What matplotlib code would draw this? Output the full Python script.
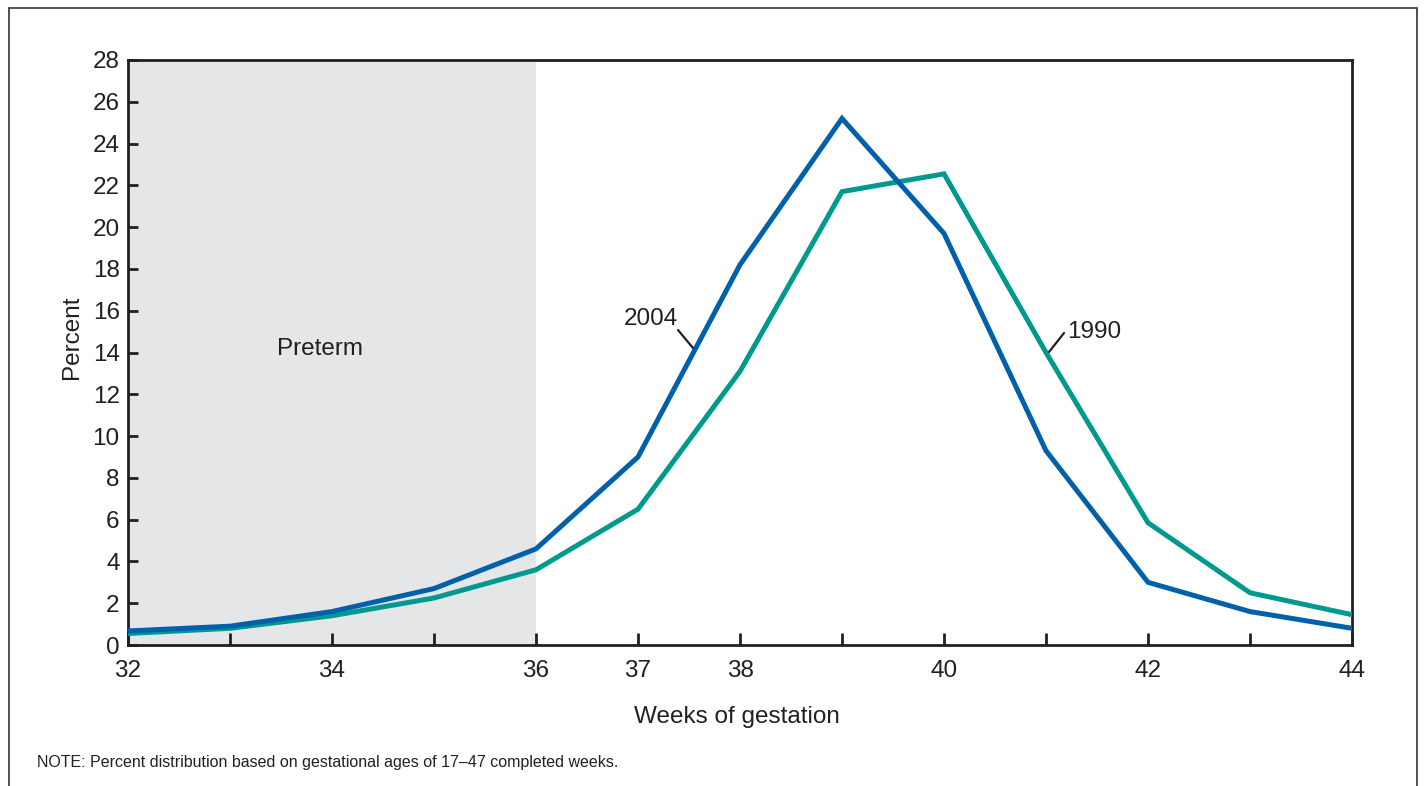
import matplotlib
matplotlib.use("Agg")
import matplotlib.pyplot as plt
from matplotlib.patches import Rectangle

plt.rcParams['font.family'] = ['Liberation Sans', 'DejaVu Sans']

weeks = [32, 33, 34, 35, 36, 37, 38, 39, 40, 41, 42, 43, 44]
pct_2004 = [0.67, 0.9, 1.6, 2.7, 4.6, 9.0, 18.2, 25.2, 19.7, 9.3, 3.0, 1.6, 0.8]
pct_1990 = [0.55, 0.8, 1.4, 2.25, 3.6, 6.5, 13.1, 21.7, 22.55, 14.0, 5.85, 2.5, 1.45]
xtick_labels = {32: "32", 34: "34", 36: "36", 37: "37", 38: "38", 40: "40", 42: "42", 44: "44"}
yticks = list(range(0, 29, 2))

BLUE = "#0060aa"
TEAL = "#00998f"
SHADE = "#e5e6e8"
INK = '#231f20'

W, H = 1426, 786
fig = plt.figure(figsize=(W/100, H/100), dpi=100)
ax = fig.add_axes([128/W, 1-645/H, (1352-128)/W, (645-60)/H])

def px2data(px, py):
    return 32 + (px - 128) / 102.0, (645 - py) / (585 / 28.0)

ax.axvspan(32, 36, color=SHADE, lw=0, zorder=0)
ax.plot(weeks, pct_1990, color=TEAL, lw=3.6, solid_joinstyle='miter', zorder=3)
ax.plot(weeks, pct_2004, color=BLUE, lw=3.6, solid_joinstyle='miter', zorder=3)

ax.set_xlim(32, 44)
ax.set_ylim(0, 28)
ax.set_xticks(weeks)
ax.set_xticklabels([xtick_labels.get(w, "") for w in weeks])
ax.set_yticks(yticks)
ax.tick_params(axis='x', direction='in', length=9, width=2, labelsize=17.5, pad=11, color=INK, labelcolor=INK)
ax.tick_params(axis='y', direction='in', length=7, width=2, labelsize=17.5, pad=6, color=INK, labelcolor=INK)
for s in ax.spines.values():
    s.set_linewidth(2)
    s.set_color(INK)

ax.set_xlabel("Weeks of gestation", fontsize=17.5, color=INK)
ax.xaxis.label.set_va('center')
ax.xaxis.set_label_coords((737-128)/1224, (645-717)/585)
ax.set_ylabel("Percent", fontsize=17.5, color=INK)
ax.yaxis.label.set_va('center')
ax.yaxis.set_label_coords((72-128)/1224, (645-337)/585)

ax.text(*px2data(320, 349), "Preterm", fontsize=17.5, ha='center', va='center', color=INK)

# 2004 label and leader
ax.text(*px2data(651, 319), "2004", fontsize=17.5, ha='center', va='center', color=INK)
ax.annotate("", xy=px2data(693, 348), xytext=px2data(678, 330),
            arrowprops=dict(arrowstyle='-', color=INK, lw=1.6, shrinkA=0, shrinkB=0))
# 1990 label and leader
ax.text(*px2data(1067, 332), "1990", fontsize=17.5, ha='left', va='center', color=INK)
ax.annotate("", xy=px2data(1049, 352), xytext=px2data(1064, 333),
            arrowprops=dict(arrowstyle='-', color=INK, lw=1.6, shrinkA=0, shrinkB=0))

fig.text(37/W, 1-762/H, "NOTE: Percent distribution based on gestational ages of 17\u201347 completed weeks.",
         fontsize=11.5, ha='left', va='center', color=INK)

fig.patches.append(Rectangle((9/W, -0.05), (1417-9)/W, 1.05-8/H,
                             transform=fig.transFigure, fill=False, lw=1.2, ec='#333333'))

fig.savefig("out.png", dpi=100)
